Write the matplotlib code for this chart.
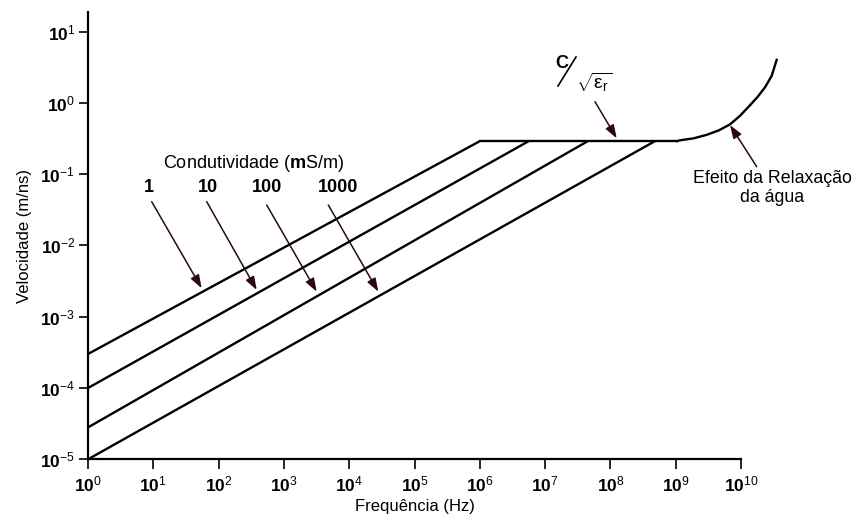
import numpy as np
import matplotlib
matplotlib.use("Agg")
import matplotlib.pyplot as plt
from matplotlib.lines import Line2D

plt.rcParams['font.family'] = ['Liberation Sans', 'DejaVu Sans']
plt.rcParams['mathtext.fontset'] = 'custom'
plt.rcParams['mathtext.rm'] = 'Liberation Sans'
plt.rcParams['mathtext.it'] = 'Liberation Sans:italic'
plt.rcParams['mathtext.bf'] = 'Liberation Sans:bold'

# conductivity lines (mS/m): start value at 1 Hz, frequency where plateau is reached
sigmas = ['1', '10', '100', '1000']
v_start = [3e-4, 1e-4, 2.8e-5, 1e-5]
f_end = [1e6, 5.6e6, 4.5e7, 4.8e8]
v_plateau = 0.29

# plateau c/sqrt(er)
plateau_f = [1e6, 1.05e9]

# water relaxation curve
relax_f = [1.05e9, 1.16e9, 1.88e9, 2.99e9, 4.57e9, 6.79e9, 9.66e9, 1.37e10,
           1.82e10, 2.33e10, 2.95e10, 3.52e10]
relax_v = [0.29, 0.298, 0.318, 0.356, 0.411, 0.499, 0.658, 0.923,
           1.23, 1.65, 2.39, 4.01]

W, H = 858, 524
fig = plt.figure(figsize=(W / 100, H / 100), dpi=100)
ax = fig.add_axes([88 / W, 1 - 459.3 / H, (741 - 88) / W, (459.3 - 12.3) / H])
ax.set_xscale('log')
ax.set_yscale('log')
ax.set_xlim(1, 1e10)
ax.set_ylim(1e-5, 10 ** 1.27)

lw = 1.7
for v0, fe in zip(v_start, f_end):
    ax.plot([1, fe], [v0, v_plateau], color='black', lw=lw, clip_on=False, solid_capstyle='butt')
ax.plot(plateau_f, [v_plateau, v_plateau], color='black', lw=lw, clip_on=False)
ax.plot(relax_f, relax_v, color='black', lw=lw, clip_on=False, solid_joinstyle='round')

ax.spines['top'].set_visible(False)
ax.spines['right'].set_visible(False)
ax.spines['left'].set_linewidth(1.6)
ax.spines['bottom'].set_linewidth(1.6)

xt = [10.0 ** k for k in range(0, 11)]
ax.set_xticks(xt)
ax.set_xticklabels([r'$\mathbf{10}^{%d}$' % k for k in range(0, 11)], fontsize=12.5)
yt = [10.0 ** k for k in range(-5, 2)]
ax.set_yticks(yt)
ax.set_yticklabels([r'$\mathbf{10}^{%d}$' % k for k in range(-5, 2)], fontsize=12.5)
ax.minorticks_off()
ax.tick_params(axis='x', direction='out', length=7.2, width=1.2, pad=4)
ax.tick_params(axis='y', direction='out', length=6.2, width=1.2, pad=3)

ax.set_xlabel('Frequência (Hz)', fontsize=12, labelpad=3)
ax.set_ylabel('Velocidade (m/ns)', fontsize=12, labelpad=6)


def fp(x, y):
    return (x / W, 1 - y / H)


arrow_col = '#2a0a10'
aprops = dict(arrowstyle='-|>,head_length=0.8,head_width=0.28', color=arrow_col, lw=1.1,
              shrinkA=0, shrinkB=0)

fig.text(*fp(253, 164), 'Condutividade ($\\mathbf{m}$S/m)', fontsize=13, ha='center', va='center')
label_x = [149, 208, 267, 338]
arrow_from = [(151.7, 201.7), (206.7, 201.7), (266.7, 205), (328.3, 205)]
arrow_to = [(201.7, 288.3), (256.7, 290), (316.7, 291.7), (378.3, 291.7)]
for s, lx, a0, a1 in zip(sigmas, label_x, arrow_from, arrow_to):
    fig.text(*fp(lx, 188), s, fontsize=13, fontweight='bold', ha='center', va='center')
    ax.annotate('', xy=fp(*a1), xycoords='figure fraction', xytext=fp(*a0),
                textcoords='figure fraction', arrowprops=aprops)

# c / sqrt(er)
fig.text(*fp(562, 63), 'C', fontsize=13, fontweight='bold', ha='center', va='center')
s0, s1 = fp(558, 86), fp(576, 57)
fig.add_artist(Line2D([s0[0], s1[0]], [s0[1], s1[1]], transform=fig.transFigure,
                      color='black', lw=1.2))
fig.text(*fp(594, 82), r'$\sqrt{\mathrm{ε}_\mathrm{r}}$', fontsize=14, ha='center', va='center')
ax.annotate('', xy=fp(616.7, 138.3), xycoords='figure fraction', xytext=fp(595, 101.7),
            textcoords='figure fraction', arrowprops=aprops)

# relaxation
fig.text(*fp(772, 178), 'Efeito da Relaxação', fontsize=12.8, ha='center', va='center')
fig.text(*fp(772, 198), 'da água', fontsize=12.8, ha='center', va='center')
ax.annotate('', xy=fp(730, 125), xycoords='figure fraction', xytext=fp(756.7, 166.7),
            textcoords='figure fraction', arrowprops=aprops)

fig.savefig('out.png', dpi=100)
